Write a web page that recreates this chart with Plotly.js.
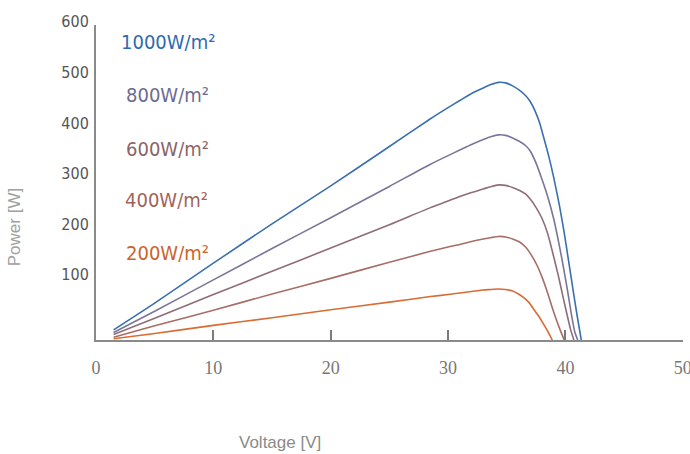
<!DOCTYPE html>
<html>
<head>
<meta charset="utf-8">
<script src="https://cdn.plot.ly/plotly-3.0.1.min.js"></script>
<style>html,body{margin:0;padding:0;background:#fff;}#chart{width:690px;height:454px;}</style>
</head>
<body>
<div id="chart"></div>
<script>
// Irradiance series labels
const seriesNames = ["1000W/m²", "800W/m²", "600W/m²", "400W/m²", "200W/m²"];

// Voltage [V] and Power [W] for each irradiance level
const v1000 = [1.5, 5, 10, 15, 20, 25, 28.5, 30, 31, 32, 33, 33.7, 34.3, 34.9, 35.5, 36.1, 36.6, 37.0, 37.4, 37.8, 38.1, 38.6, 39.0, 39.5, 39.9, 40.3, 40.7, 41.0, 41.35];
const p1000 = [20, 73, 152, 230, 305, 383, 438, 460, 474, 488, 499, 506, 510, 509, 503, 494, 484, 472, 454, 430, 405, 362, 322, 265, 212, 152, 92, 48, 0];

const v800 = [1.5, 5, 10, 15, 20, 25, 28.5, 30, 31, 32, 33, 33.7, 34.3, 34.9, 35.5, 36.1, 36.6, 37.0, 37.5, 38.0, 38.5, 39.0, 39.5, 39.8, 40.2, 40.5, 40.8, 41.05];
const p800 = [15, 57, 119, 181, 242, 304, 348, 365, 376, 387, 397, 403, 406, 405, 400, 393, 385, 374, 350, 318, 283, 240, 185, 148, 95, 52, 16, 0];

const v600 = [1.5, 5, 10, 15, 20, 25, 28.5, 30, 31, 32, 33, 33.7, 34.3, 34.9, 35.5, 36.1, 36.6, 37.0, 37.4, 38.0, 38.5, 39.0, 39.4, 39.8, 40.2, 40.45, 40.72];
const p600 = [11, 43, 90, 136, 182, 228, 262, 275, 284, 292, 299, 304, 307, 306, 302, 296, 289, 279, 266, 241, 210, 165, 127, 85, 44, 20, 0];

const v400 = [1.5, 5, 10, 15, 20, 25, 28.5, 30, 31, 32, 33, 33.7, 34.3, 34.9, 35.5, 36.1, 36.6, 37.1, 37.6, 38.0, 38.4, 38.8, 39.2, 39.55, 39.9];
const p400 = [5.5, 28, 59, 91, 122, 154, 175.5, 184, 189, 195, 200, 203, 205, 204, 200, 194, 184, 168, 147, 125, 99, 70, 42, 20, 0];

const v200 = [1.5, 5, 10, 15, 20, 25, 28.5, 30, 31, 32, 33, 33.7, 34.3, 34.9, 35.5, 36.0, 36.5, 36.9, 37.3, 37.7, 38.1, 38.45, 38.88];
const p200 = [2.5, 13, 29, 44, 60, 75, 86, 90, 93, 96, 99, 100, 101, 100, 97, 91, 83, 74, 61, 48, 33, 19, 0];

// Tick values / labels
const xTicks = [0, 10, 20, 30, 40, 50];
const yTicks = [100, 200, 300, 400, 500, 600];

const lineColors = ["#3a6fb0", "#7a7698", "#8f6d78", "#a76e66", "#d96b33"];
const labelColors = ["#2f6aae", "#6c6b90", "#8b6468", "#a0645b", "#cd632c"];

const vs = [v1000, v800, v600, v400, v200];
const ps = [p1000, p800, p600, p400, p200];

const traces = vs.map((v, i) => ({
  x: v, y: ps[i], type: "scatter", mode: "lines", name: seriesNames[i],
  line: {color: lineColors[i], width: 1.6, shape: "spline", smoothing: 0.6},
  hoverinfo: "skip"
}));

const labelY = [42, 95, 149, 200, 253];
const labelX = [119, 124, 124, 123, 124];
const narrow = "DejaVu Sans Condensed, Liberation Sans Narrow, sans-serif";

const W = 690 - 95.5 - 7, H = 340.5 - 25;
const annotations = seriesNames.map((n, i) => ({
  text: n, xref: "paper", yref: "paper",
  x: (labelX[i] - 95.5) / W, y: 1 - (labelY[i] - 25) / H,
  xanchor: "left", yanchor: "middle", showarrow: false,
  font: {family: narrow, size: 20, color: labelColors[i]}
}));
annotations.push({
  text: "Power [W]", xref: "paper", yref: "paper",
  x: (14 - 95.5) / W, y: 1 - (228 - 25) / H,
  xanchor: "center", yanchor: "middle", textangle: -90, showarrow: false,
  font: {family: "Liberation Sans, Arial, sans-serif", size: 17, color: "#a0a0a0"}
});
annotations.push({
  text: "Voltage [V]", xref: "paper", yref: "paper",
  x: (280 - 95.5) / W, y: 1 - (443 - 25) / H,
  xanchor: "center", yanchor: "middle", showarrow: false,
  font: {family: "Liberation Sans, Arial, sans-serif", size: 17, color: "#8a8a8a"}
});

const layout = {
  width: 690, height: 454,
  margin: {l: 95.5, r: 7, t: 25, b: 113.5},
  paper_bgcolor: "#ffffff", plot_bgcolor: "#ffffff",
  showlegend: false,
  xaxis: {
    range: [0, 50.02], tickvals: xTicks, ticktext: xTicks.map(String),
    showgrid: false, zeroline: false, showline: true, linecolor: "#8a8a8a", linewidth: 2,
    ticks: "inside", ticklen: 10, tickwidth: 2, tickcolor: "#7a7a7a",
    ticklabelstandoff: 10, ticklabeloverflow: "allow",
    tickfont: {family: "Liberation Serif, DejaVu Serif, serif", size: 18, color: "#777777"}
  },
  yaxis: {
    range: [0, 623.5], tickvals: yTicks, ticktext: yTicks.map(String),
    showgrid: false, zeroline: false, showline: true, linecolor: "#8a8a8a", linewidth: 2,
    ticks: "", ticklabelshift: -15, ticklabelstandoff: 2,
    tickfont: {family: narrow, size: 16, color: "#555555"}
  },
  annotations: annotations
};

Plotly.newPlot("chart", traces, layout, {displayModeBar: false, staticPlot: true});
</script>
</body>
</html>
